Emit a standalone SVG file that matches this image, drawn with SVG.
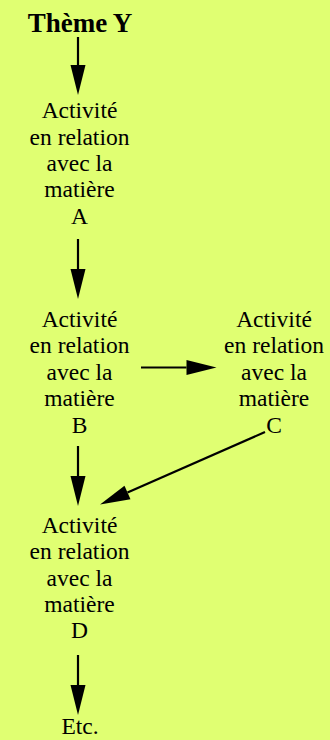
<svg xmlns="http://www.w3.org/2000/svg" width="330" height="740" viewBox="0 0 330 740">
<defs>
<style>
.t{font-family:"Liberation Serif","Times New Roman",serif;font-size:23.5px;fill:#000;text-anchor:middle}
.title{font-family:"Liberation Serif","Times New Roman",serif;font-size:27px;font-weight:bold;fill:#000;text-anchor:middle}
.c{stroke:#000;stroke-width:2.2;fill:none;marker-end:url(#ah)}
</style>
<marker id="ah" markerUnits="userSpaceOnUse" markerWidth="32" markerHeight="16" refX="0" refY="7.5" orient="auto" overflow="visible">
<path d="M0,0 L30,7.5 L0,15 Z" fill="#000"/>
</marker>
</defs>
<rect width="330" height="740" fill="#e0ff72"/>
<g id="theme"><text class="title" x="80" y="32">Thème Y</text></g>
<g id="nodeA"><text class="t" x="79.5"><tspan x="79.5" y="118">Activité</tspan><tspan x="79.5" y="145">en relation</tspan><tspan x="79.5" y="171">avec la</tspan><tspan x="79.5" y="197">matière</tspan><tspan x="79.5" y="224">A</tspan></text></g>
<g id="nodeB"><text class="t" x="79.5"><tspan x="79.5" y="327">Activité</tspan><tspan x="79.5" y="353">en relation</tspan><tspan x="79.5" y="380">avec la</tspan><tspan x="79.5" y="406">matière</tspan><tspan x="79.5" y="433">B</tspan></text></g>
<g id="nodeC"><text class="t" x="274"><tspan x="274" y="327">Activité</tspan><tspan x="274" y="353">en relation</tspan><tspan x="274" y="380">avec la</tspan><tspan x="274" y="406">matière</tspan><tspan x="274" y="433">C</tspan></text></g>
<g id="nodeD"><text class="t" x="79.5"><tspan x="79.5" y="533">Activité</tspan><tspan x="79.5" y="559">en relation</tspan><tspan x="79.5" y="586">avec la</tspan><tspan x="79.5" y="612">matière</tspan><tspan x="79.5" y="638">D</tspan></text></g>
<g id="etc"><text class="t" x="80" y="734">Etc.</text></g>
<g id="connectors">
<line class="c" x1="78" y1="37" x2="78" y2="65"/>
<line class="c" x1="78" y1="239" x2="78" y2="269"/>
<line class="c" x1="141" y1="367.5" x2="186.5" y2="367.5"/>
<line class="c" x1="78" y1="446" x2="78" y2="476"/>
<line class="c" x1="265" y1="432" x2="127.5" y2="492.5"/>
<line class="c" x1="78" y1="655" x2="78" y2="685"/>
</g>
</svg>
